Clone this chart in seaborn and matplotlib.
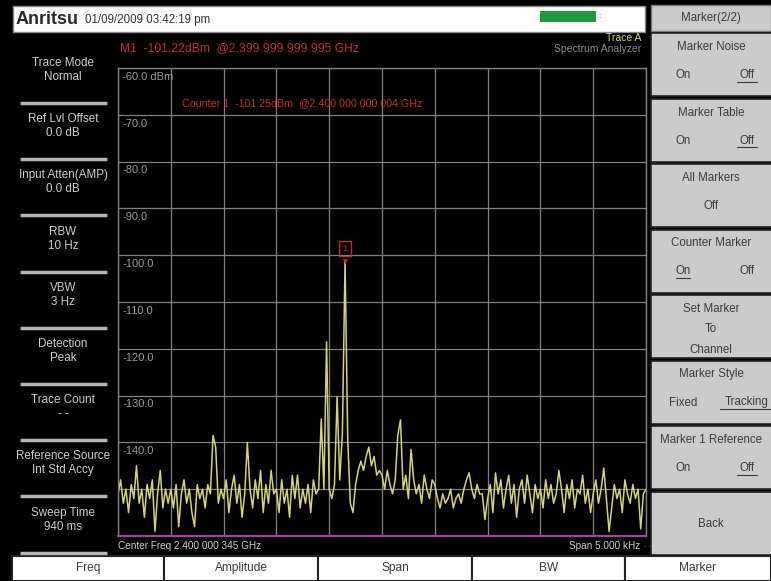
import numpy as np
import matplotlib.pyplot as plt
import seaborn as sns
from matplotlib.patches import Rectangle

sns.set_theme(style="dark")
plt.rcParams["font.family"] = ["Liberation Sans", "DejaVu Sans"]

# ── Sweep data: 201 points over the 5 kHz span (offset from centre, Hz) ──
center_label = "Center Freq 2.400 000 345 GHz"
span_label = "Span 5.000 kHz"
freq_hz = np.linspace(-2500, 2500, 201)

# trace levels in dBm, one block of 20 points per grid division
div0 = [-151, -148, -153, -150, -155, -149, -152, -145, -153, -150,
        -156, -149, -152, -148, -159, -151, -146, -154, -150, -153]
div1 = [-150, -154, -149, -158, -151, -148, -153, -150, -155, -158,
        -149, -152, -150, -154, -149, -151, -138.5, -141, -153, -150]
div2 = [-152, -148, -155, -150, -147, -153, -149, -156, -151, -140,
        -150, -154, -148, -152, -146, -155, -149, -153, -146, -151]
div3 = [-150, -155, -148, -153, -150, -156, -147, -152, -147, -154,
        -150, -153, -149, -155, -148, -151, -150, -135, -150, -118.5]
div4 = [-150, -152, -149, -130.3, -148, -138, -101.22, -139, -153, -155,
        -149, -146, -144, -146, -143, -141, -145, -143, -147, -146]
div5 = [-147, -150, -146, -149, -151, -148, -138.4, -135.2, -150, -147,
        -152, -141.5, -148, -151, -149, -153, -147, -150, -152, -148]
div6 = [-149, -152, -154, -151, -153, -152, -150, -154, -152, -151,
        -153, -150, -148, -146.5, -150, -152, -149, -151, -151, -156.5]
div7 = [-152, -149, -155, -146.5, -151, -148, -154, -150, -147, -153,
        -149, -156, -150, -148, -153, -147, -151, -155, -149, -152]
div8 = [-150, -154, -148, -152, -149, -153, -151, -146, -150, -155,
        -149, -152, -148, -154, -150, -151, -147, -153, -150, -155]
div9 = [-151, -148, -153, -150, -145.5, -152, -159, -154, -149, -152,
        -150, -155, -148, -151, -153, -149, -152, -150, -158.5, -151, -150]
level_dbm = np.array(div0 + div1 + div2 + div3 + div4 + div5 + div6 + div7 + div8 + div9)

y_ticks = [-60, -70, -80, -90, -100, -110, -120, -130, -140, -150, -160]
y_labels = ["-60.0 dBm", "-70.0", "-80.0", "-90.0", "-100.0", "-110.0", "-120.0", "-130.0", "-140.0"]

m1_text = "M1  -101.22dBm  @2.399 999 999 995 GHz"
counter_text = "Counter 1  -101.25dBm  @2.400 000 000 004 GHz"

left_items = [("Trace Mode", "Normal"), ("Ref Lvl Offset", "0.0 dB"),
              ("Input Atten(AMP)", "0.0 dB"), ("RBW", "10 Hz"), ("VBW", "3 Hz"),
              ("Detection", "Peak"), ("Trace Count", "- -"),
              ("Reference Source", "Int Std Accy"), ("Sweep Time", "940 ms")]
bottom_keys = ["Freq", "Amplitude", "Span", "BW", "Marker"]

# ── figure + full-size pixel canvas for the instrument frame ──
W, H = 771, 581
fig = plt.figure(figsize=(W / 100, H / 100), dpi=100, facecolor="black")
bg = fig.add_axes([0, 0, 1, 1], zorder=0)
bg.set_xlim(0, W); bg.set_ylim(H, 0); bg.axis("off")

TXT = "#cdcdcd"
RED = "#c0302c"
GREY_BTN = "#cbcbcb"
BTN_TXT = "#3a3a3a"

# header bar
bg.add_patch(Rectangle((13, 6), 632, 26, fc="white", ec="#8a8a8a", lw=1))
bg.text(16, 19.5, "Anritsu", fontsize=13, fontweight="heavy", color="#2a2a2a", va="center")
bg.text(85, 20, "01/09/2009 03:42:19 pm", fontsize=8.3, color="#333333", va="center")
bg.add_patch(Rectangle((540, 11), 56, 11, fc="#1f9a3c", ec="none"))
bg.text(598, 16.5, ":", fontsize=6, color="#444444", va="center")

# trace info
bg.text(120, 48, m1_text, fontsize=8.7, color=RED, va="center")
bg.text(641, 38, "Trace A", fontsize=7.5, color="#d8d27a", ha="right", va="center")
bg.text(641, 49, "Spectrum Analyzer", fontsize=7.5, color="#8a8a8a", ha="right", va="center")

# left settings panel
for i, (name, val) in enumerate(left_items):
    top = 52 + i * 56.2
    bg.text(63, top + 11, name, fontsize=8.4, color=TXT, ha="center", va="center")
    bg.text(63, top + 25, val, fontsize=8.4, color=TXT, ha="center", va="center")
    bg.plot([20, 107], [top + 51, top + 51], color="#b5b5b5", lw=2.5, solid_capstyle="butt")

# right soft-key column
bg.add_patch(Rectangle((651, 5), 120, 26, fc=GREY_BTN, ec="#777777", lw=1))
bg.text(711, 18, "Marker(2/2)", fontsize=8.3, color=BTN_TXT, ha="center", va="center")
buttons = [("Marker Noise", ["On", "Off"], 1),
           ("Marker Table", ["On", "Off"], 1),
           ("All Markers", ["Off"], None),
           ("Counter Marker", ["On", "Off"], 0),
           ("Set Marker\nTo\nChannel", [], None),
           ("Marker Style", ["Fixed", "Tracking"], 1),
           ("Marker 1 Reference", ["On", "Off"], 1),
           ("Back", [], None)]
bh = 65.5
for i, (title, opts, sel) in enumerate(buttons):
    t = 33 + i * bh
    bg.add_patch(Rectangle((651, t), 122, bh - 2.5, fc=GREY_BTN, ec="#222222", lw=1.2))
    if title == "Back":
        bg.text(711, t + bh / 2, title, fontsize=8.3, color=BTN_TXT, ha="center", va="center")
    elif "\n" in title:
        for j, line in enumerate(title.split("\n")):
            bg.text(711, t + 14 + j * 20.5, line, fontsize=8.3, color=BTN_TXT, ha="center", va="center")
    else:
        bg.text(711, t + 14, title, fontsize=8.3, color=BTN_TXT, ha="center", va="center")
        xs = [711] if len(opts) == 1 else [683, 747]
        for j, (o, xo) in enumerate(zip(opts, xs)):
            bg.text(xo, t + 42, o, fontsize=8.3, color=BTN_TXT, ha="center", va="center")
            if sel == j:
                half = 3.4 * len(o)
                bg.plot([xo - half, xo + half], [t + 48.5, t + 48.5], color=BTN_TXT, lw=0.8)

# bottom soft keys
edges = [12, 164, 318, 472, 625, 771]
for k, name in enumerate(bottom_keys):
    bg.add_patch(Rectangle((edges[k], 556), edges[k + 1] - edges[k], 25, fc="white", ec="#222222", lw=1.5))
    bg.text((edges[k] + edges[k + 1]) / 2, 568, name, fontsize=8.6, color=BTN_TXT, ha="center", va="center")

bg.text(118, 546, center_label, fontsize=7.2, color=TXT, va="center")
bg.text(640, 546, span_label, fontsize=7.2, color=TXT, ha="right", va="center")
bg.text(644, 546, "- -", fontsize=6, color="#555555", va="center")

# ── spectrum axes ──
ax = fig.add_axes([118 / W, 1 - 536 / H, (646 - 118) / W, (536 - 68) / H], zorder=1)
ax.set_facecolor("black")
sns.lineplot(x=freq_hz, y=level_dbm, ax=ax, color="#d4d27a", lw=1.1)
ax.set_xlim(freq_hz[0], freq_hz[-1])
ax.set_ylim(-160, -60)
ax.set_xticks(np.linspace(freq_hz[0], freq_hz[-1], 11))
ax.set_yticks(y_ticks)
ax.set_xticklabels([]); ax.set_yticklabels([])
ax.tick_params(length=0)
ax.set_xlabel(""); ax.set_ylabel("")
ax.grid(True, color="#808080", lw=0.9)
for s in ax.spines.values():
    s.set_color("#808080"); s.set_linewidth(1)
ax.spines["bottom"].set_color("#a2449a"); ax.spines["bottom"].set_linewidth(1.6)

for v, lab in zip(y_ticks, y_labels):
    ax.text(freq_hz[0] + 40, v - 0.8, lab, fontsize=8, color="#9a9a9a", va="top")

ax.text(freq_hz[0] + 610, -67.6, counter_text, fontsize=7.7, color=RED, va="center")

# marker 1 at the trace peak
pk = int(np.argmax(level_dbm))
pf, pl = freq_hz[pk], level_dbm[pk]
sns.scatterplot(x=[pf], y=[pl], ax=ax, color=RED, s=10, marker="v", edgecolor=RED, zorder=5)
ax.add_patch(Rectangle((pf - 55, pl + 1.0), 110, 3.2, fill=False, ec=RED, lw=1, zorder=5))
ax.text(pf, pl + 2.6, "1", fontsize=6.5, color=RED, ha="center", va="center", zorder=5)

fig.savefig("out.png", dpi=100, facecolor="black")
